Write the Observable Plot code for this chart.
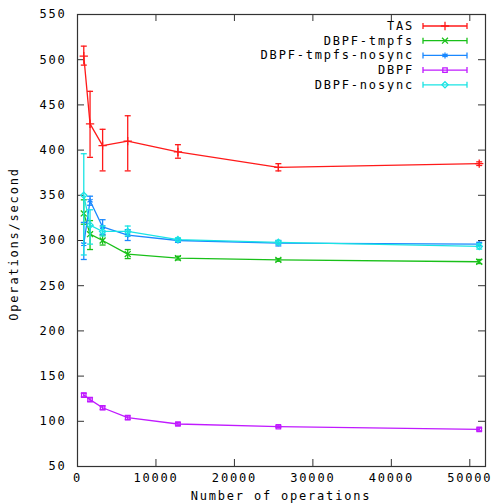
<!DOCTYPE html>
<html><head><meta charset="utf-8">
<script src="https://cdn.jsdelivr.net/npm/d3@7"></script>
<script src="https://cdn.jsdelivr.net/npm/@observablehq/plot@0.6"></script>
<style>body{margin:0;background:#fff} svg{display:block}</style>
</head><body><div id="chart"></div>
<script>
const ops = [800, 1600, 3200, 6400, 12800, 25600, 51200];
const seriesNames = ["TAS", "DBPF-tmpfs", "DBPF-tmpfs-nosync", "DBPF", "DBPF-nosync"];
const tasVals = [504, 429, 405, 410, 398, 381, 385];
const tasLow = [494, 392, 377, 377, 391, 377, 383];
const tasHigh = [515, 465, 423, 438, 406, 385, 387];
const tmpfsVals = [330, 307, 300, 285, 280.5, 278.5, 276.5];
const tmpfsLow = [318, 290, 295, 280, 278.5, 277, 274.5];
const tmpfsHigh = [345, 322, 306, 290, 282.5, 280, 279];
const tmpfsNosyncVals = [296, 344, 315, 306, 300, 297, 296];
const tmpfsNosyncLow = [279, 339, 307, 300, 298, 294, 294];
const tmpfsNosyncHigh = [320, 349, 323, 312, 302, 300, 298];
const dbpfVals = [129, 124, 115, 104, 97, 94, 91];
const dbpfLow = [127, 122, 113, 102, 95.5, 93, 89.5];
const dbpfHigh = [131, 126, 117, 106, 98.5, 95, 92.5];
const nosyncVals = [350, 317, 310, 310, 301, 298, 293.5];
const nosyncLow = [284, 296, 305, 305, 299, 296, 290.5];
const nosyncHigh = [396, 334, 316, 316, 303, 300, 296.5];
const xTicks = [0, 10000, 20000, 30000, 40000, 50000];
const yTicks = [50, 100, 150, 200, 250, 300, 350, 400, 450, 500, 550];
const xLabel = "Number of operations";
const yLabel = "Operations/second";

const seriesColors = ["#ff1a1a", "#19c019", "#1a88ff", "#c01aff", "#1ae4e4"];
const seriesSymbols = ["plus", "times", "asterisk", "square2", "diamond2"];
const d3Symbols = [d3.symbolPlus, d3.symbolTimes, d3.symbolAsterisk, d3.symbolSquare2, d3.symbolDiamond2];

const vals = [tasVals, tmpfsVals, tmpfsNosyncVals, dbpfVals, nosyncVals];
const lows = [tasLow, tmpfsLow, tmpfsNosyncLow, dbpfLow, nosyncLow];
const highs = [tasHigh, tmpfsHigh, tmpfsNosyncHigh, dbpfHigh, nosyncHigh];

const W = 496, H = 504, ML = 77, MR = 11, MT = 14, MB = 38;
const IW = W - ML - MR, IH = H - MT - MB, TL = 7;
const SW = 1.3, MR_ = 2.8;

const cap = {draw(ctx, size) { const r = Math.sqrt(size / Math.PI); ctx.moveTo(-r, 0); ctx.lineTo(r, 0); }};

const marks = [];
seriesNames.forEach((name, i) => {
  const rows = ops.map((x, j) => ({x, y: vals[i][j], lo: lows[i][j], hi: highs[i][j]}));
  const c = seriesColors[i];
  marks.push(
    Plot.line(rows, {x: "x", y: "y", stroke: c, strokeWidth: SW}),
    Plot.ruleX(rows, {x: "x", y1: "lo", y2: "hi", stroke: c, strokeWidth: SW}),
    Plot.dot(rows, {x: "x", y: "lo", symbol: cap, r: 3, stroke: c, strokeWidth: SW}),
    Plot.dot(rows, {x: "x", y: "hi", symbol: cap, r: 3, stroke: c, strokeWidth: SW}),
    Plot.dot(rows, {x: "x", y: "y", symbol: seriesSymbols[i], r: MR_, stroke: c, fill: "none", strokeWidth: SW})
  );
});

const tickColor = "#333";
const chart = Plot.plot({
  width: W, height: H,
  marginLeft: ML, marginRight: MR, marginTop: MT, marginBottom: MB,
  style: {fontFamily: "DejaVu Sans Mono", fontSize: "12px", letterSpacing: "1.8px", color: "#000", background: "#fff"},
  x: {domain: [0, 52000]},
  y: {domain: [50, 550]},
  marks: [
    Plot.tickY(yTicks, {y: d => d, insetRight: IW - TL, stroke: tickColor}),
    Plot.tickY(yTicks, {y: d => d, insetLeft: IW - TL, stroke: tickColor}),
    Plot.tickX(xTicks, {x: d => d, insetTop: IH - TL, stroke: tickColor}),
    Plot.tickX(xTicks, {x: d => d, insetBottom: IH - TL, stroke: tickColor}),
    Plot.axisX({ticks: xTicks, tickSize: 0, tickPadding: 7, tickFormat: d => String(d), label: null, fill: "#000"}),
    Plot.axisY({ticks: yTicks, tickSize: 0, tickPadding: 11, tickFormat: d => String(d), label: null, fill: "#000"}),
    ...marks,
    Plot.frame({stroke: "#333", strokeWidth: 1.2})
  ]
});
document.getElementById("chart").appendChild(chart);

const svg = d3.select(chart);
svg.append("text").attr("x", ML + IW / 2).attr("y", 495.5).attr("text-anchor", "middle")
  .attr("dominant-baseline", "central").text(xLabel);
svg.append("text").attr("transform", `translate(14,${MT + IH / 2 + 4}) rotate(-90)`).attr("text-anchor", "middle")
  .attr("dominant-baseline", "central").text(yLabel);

const lg = svg.append("g");
seriesNames.forEach((n, i) => {
  const y = 26 + i * 14.7, c = seriesColors[i];
  lg.append("text").attr("x", 414).attr("y", y).attr("text-anchor", "end").attr("dominant-baseline", "central").text(n);
  lg.append("line").attr("x1", 423).attr("x2", 467).attr("y1", y).attr("y2", y).attr("stroke", c).attr("stroke-width", SW);
  lg.append("line").attr("x1", 423).attr("x2", 423).attr("y1", y - 3).attr("y2", y + 3).attr("stroke", c).attr("stroke-width", SW);
  lg.append("line").attr("x1", 467).attr("x2", 467).attr("y1", y - 3).attr("y2", y + 3).attr("stroke", c).attr("stroke-width", SW);
  lg.append("path").attr("transform", `translate(445,${y})`).attr("d", d3.symbol(d3Symbols[i], Math.PI * MR_ * MR_)())
    .attr("fill", "none").attr("stroke", c).attr("stroke-width", SW);
});
</script></body></html>
